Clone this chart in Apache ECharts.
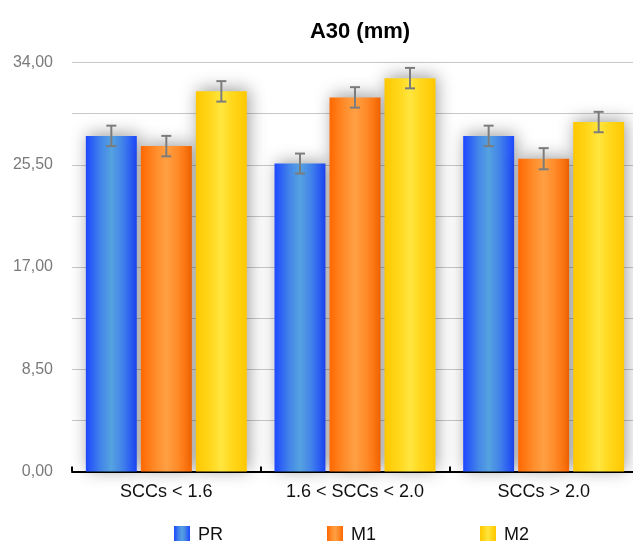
<!DOCTYPE html>
<html>
<head>
<meta charset="utf-8">
<title>A30 (mm)</title>
<script src="https://cdn.jsdelivr.net/npm/echarts@6/dist/echarts.min.js"></script>
<style>
  html, body { margin: 0; padding: 0; background: #ffffff; }
  #chart { width: 633px; height: 541px; }
</style>
</head>
<body>
<div id="chart"></div>
<script>
// Categories and series values
const categories = ['SCCs < 1.6', '1.6 < SCCs < 2.0', 'SCCs > 2.0'];
const seriesNames = ['PR', 'M1', 'M2'];
const valuesPR = [27.9, 25.6, 27.9];
const valuesM1 = [27.05, 31.1, 26.0];
const valuesM2 = [31.6, 32.7, 29.05];
// Error bar half-lengths
const errPR = [0.85, 0.83, 0.85];
const errM1 = [0.85, 0.85, 0.88];
const errM2 = [0.85, 0.85, 0.85];
// Labelled y ticks (minor grid lines fall half-way between)
const yTickValues = [0, 8.5, 17, 25.5, 34];
const yTickLabels = ['0,00', '8,50', '17,00', '25,50', '34,00'];

const FONT = "'Liberation Sans', Arial, Helvetica, sans-serif";
const BAR_W = 0.27;   // bar width as share of the category band
const BAR_GAP = 0.08; // gap between bars as share of bar width

function hGradient(edge, mid, light) {
  return new echarts.graphic.LinearGradient(0, 0, 1, 0, [
    { offset: 0, color: edge },
    { offset: 0.3, color: mid },
    { offset: 0.5, color: light },
    { offset: 0.7, color: mid },
    { offset: 1, color: edge }
  ]);
}
const fills = [
  hGradient('#1d48ff', '#4486e8', '#55a2e0'),
  hGradient('#ff6800', '#ff8d2c', '#ffa044'),
  hGradient('#ffc800', '#ffd81e', '#ffe640')
];

function barSeries(idx, vals) {
  return {
    type: 'bar',
    name: seriesNames[idx],
    data: vals,
    barWidth: (BAR_W * 100) + '%',
    barGap: (BAR_GAP * 100) + '%',
    z: 2,
    itemStyle: {
      color: fills[idx],
      shadowColor: 'rgba(0,0,0,0.38)',
      shadowBlur: 16,
      shadowOffsetX: 2,
      shadowOffsetY: -2
    },
    emphasis: { disabled: true }
  };
}

function errorSeries(idx, vals, errs) {
  return {
    type: 'custom',
    name: seriesNames[idx] + ' error',
    z: 10,
    silent: true,
    data: vals.map((v, i) => [i, v - errs[i], v + errs[i]]),
    encode: { x: 0, y: [1, 2] },
    renderItem(params, api) {
      const c = api.value(0);
      const lo = api.coord([c, api.value(1)]);
      const hi = api.coord([c, api.value(2)]);
      const band = api.size([1, 0])[0];
      const bw = band * BAR_W;
      const x = lo[0] + (idx - 1) * bw * (1 + BAR_GAP);
      const cap = 5;
      const style = { stroke: '#7c7c7c', lineWidth: 2, fill: null };
      return {
        type: 'group',
        children: [
          { type: 'line', shape: { x1: x, y1: hi[1], x2: x, y2: lo[1] }, style },
          { type: 'line', shape: { x1: x - cap, y1: hi[1], x2: x + cap, y2: hi[1] }, style },
          { type: 'line', shape: { x1: x - cap, y1: lo[1], x2: x + cap, y2: lo[1] }, style }
        ]
      };
    }
  };
}

const chart = echarts.init(document.getElementById('chart'), null, { renderer: 'canvas' });
chart.setOption({
  animation: false,
  backgroundColor: '#ffffff',
  textStyle: { fontFamily: FONT },
  title: {
    text: 'A30 (mm)',
    left: 355,
    textAlign: 'center',
    top: 16,
    textStyle: { fontFamily: FONT, fontSize: 22, fontWeight: 'bold', color: '#000000' }
  },
  legend: {
    data: seriesNames,
    left: 169,
    top: 521,
    icon: 'rect',
    itemWidth: 16,
    itemHeight: 18,
    itemGap: 104,
    textStyle: { fontFamily: FONT, fontSize: 18, color: '#111111', padding: [0, 0, 0, 3] },
    selectedMode: false
  },
  grid: {
    left: 72,
    top: 62.5,
    width: 566,
    height: 409,
    outerBoundsMode: 'none',
    containLabel: false
  },
  xAxis: {
    type: 'category',
    data: categories,
    axisLine: { show: true, lineStyle: { color: '#000000', width: 2 } },
    axisTick: { show: true, inside: true, length: 5, lineStyle: { color: '#000000', width: 2 } },
    axisLabel: { fontFamily: FONT, fontSize: 18, color: '#111111', margin: 12 },
    splitLine: { show: false }
  },
  yAxis: {
    type: 'value',
    min: 0,
    max: 34,
    interval: 4.25,
    axisLine: { show: false },
    axisTick: { show: false },
    axisLabel: {
      fontFamily: FONT,
      fontSize: 16,
      color: '#7a7a7a',
      margin: 19,
      formatter(v) {
        const i = yTickValues.findIndex(t => Math.abs(t - v) < 1e-6);
        return i >= 0 ? yTickLabels[i] : '';
      }
    },
    splitLine: { show: true, lineStyle: { color: '#c8c8c8', width: 1 } }
  },
  series: [
    barSeries(0, valuesPR),
    barSeries(1, valuesM1),
    barSeries(2, valuesM2),
    errorSeries(0, valuesPR, errPR),
    errorSeries(1, valuesM1, errM1),
    errorSeries(2, valuesM2, errM2)
  ]
});
</script>
</body>
</html>
